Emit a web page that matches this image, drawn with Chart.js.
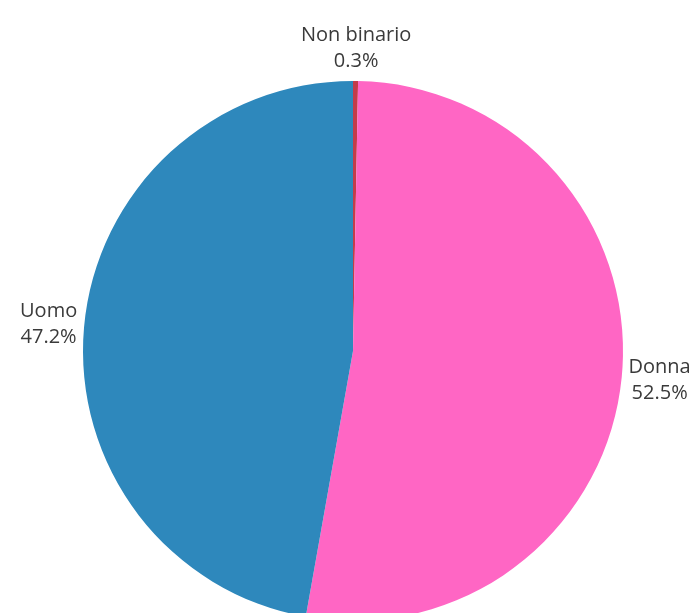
<!DOCTYPE html>
<html>
<head>
<meta charset="utf-8">
<script src="https://cdn.jsdelivr.net/npm/chart.js@4/dist/chart.umd.min.js"></script>
<style>
    html, body { margin: 0; padding: 0; background: #fff; overflow: hidden; }
    canvas { display: block; }
</style>
</head>
<body>
<canvas id="grafico-genere" width="697" height="700"></canvas>
<script>
const categorie = ['Non binario', 'Donna', 'Uomo'];
const percentuali = [0.3, 52.5, 47.2];
const colori = ['#c43c4a', '#ff66c4', '#2e88bc'];

// etichette esterne: nome e percentuale centrati fuori dallo spicchio
const etichetteEsterne = {
    id: 'etichetteEsterne',
    afterDatasetsDraw(chart) {
        const ctx = chart.ctx;
        const meta = chart.getDatasetMeta(0);
        const font = '20px "Open Sans", "Noto Sans", sans-serif';
        const lineHeight = 26;
        const distanza = 7;
        ctx.save();
        ctx.font = font;
        ctx.fillStyle = '#3a3a3a';
        ctx.textAlign = 'center';
        ctx.textBaseline = 'middle';
        meta.data.forEach((arc, i) => {
            const p = arc.getProps(['x', 'y', 'startAngle', 'endAngle', 'outerRadius'], true);
            const mid = (p.startAngle + p.endAngle) / 2;
            const cos = Math.cos(mid);
            const sin = Math.sin(mid);
            const righe = [categorie[i], percentuali[i].toFixed(1) + '%'];
            const w = Math.max(...righe.map(t => ctx.measureText(t).width));
            const h = righe.length * lineHeight;
            const ax = p.x + cos * (p.outerRadius + distanza);
            const ay = p.y + sin * (p.outerRadius + distanza);
            const cx = ax + cos * w / 2;
            const cy = ay + sin * h / 2;
            righe.forEach((t, j) => {
                ctx.fillText(t, cx, cy - h / 2 + lineHeight * (j + 0.5));
            });
        });
        ctx.restore();
    }
};

const ctx = document.getElementById('grafico-genere').getContext('2d');
new Chart(ctx, {
    type: 'pie',
    data: {
        labels: categorie,
        datasets: [{
            data: percentuali,
            backgroundColor: colori,
            borderWidth: 0,
        }],
    },
    options: {
        responsive: false,
        animation: false,
        layout: { padding: { left: 83, right: 74, top: 81, bottom: 79 } },
        plugins: {
            legend: { display: false },
            tooltip: { enabled: false },
        },
    },
    plugins: [etichetteEsterne],
});
</script>
</body>
</html>
